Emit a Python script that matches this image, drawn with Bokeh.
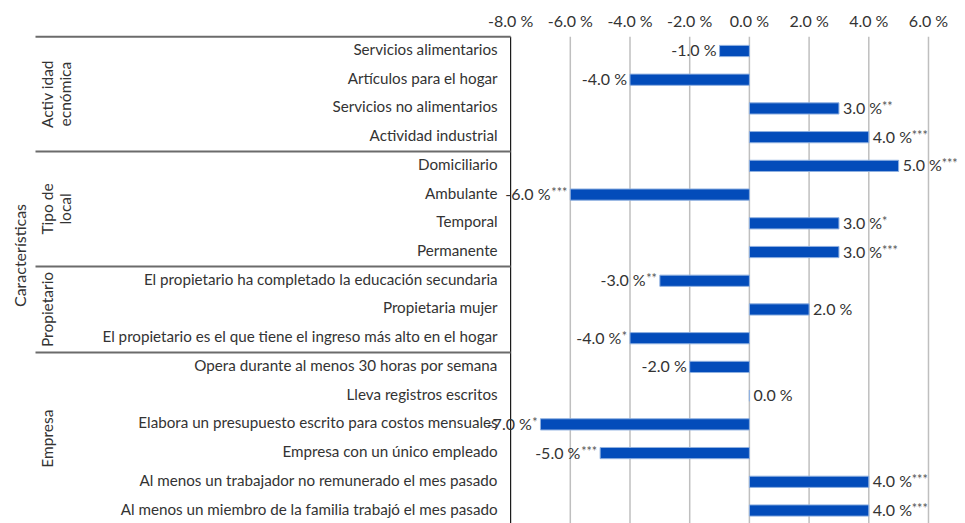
import numpy as np
from bokeh.plotting import figure
from bokeh.models import ColumnDataSource, Range1d
from bokeh.core.properties import value
from bokeh.embed import file_html
from bokeh.resources import INLINE

# ---- data -------------------------------------------------------------
categories = [
    "Servicios alimentarios",
    "Artículos para el hogar",
    "Servicios no alimentarios",
    "Actividad industrial",
    "Domiciliario",
    "Ambulante",
    "Temporal",
    "Permanente",
    "El propietario ha completado la educación secundaria",
    "Propietaria mujer",
    "El propietario es el que tiene el ingreso más alto en el hogar",
    "Opera durante al menos 30 horas por semana",
    "Lleva registros escritos",
    "Elabora un presupuesto escrito para costos mensuales",
    "Empresa con un único empleado",
    "Al menos un trabajador no remunerado el mes pasado",
    "Al menos un miembro de la familia trabajó el mes pasado",
]
values = [-1.0, -4.0, 3.0, 4.0, 5.0, -6.0, 3.0, 3.0, -3.0, 2.0, -4.0,
          -2.0, 0.0, -7.0, -5.0, 4.0, 4.0]
stars = ["", "", "**", "***", "***", "***", "*", "***", "**", "", "*",
         "", "", "*", "***", "***", "***"]
groups = ["Activ idad\necnómica", "Tipo de\nlocal", "Propietario", "Empresa"]
group_sizes = [4, 4, 3, 6]
tick_values = [-8, -6, -4, -2, 0, 2, 4, 6]
tick_labels = ["-8.0 %", "-6.0 %", "-4.0 %", "-2.0 %", "0.0 %", "2.0 %",
               "4.0 %", "6.0 %"]
axis_title = "Características"

# ---- canvas / coordinate helpers ---------------------------------------
W, H = 965, 523
X0, X1 = -25.09, 7.24          # data x spanning the whole canvas
Y_TOP, Y_BOT = -1.758, 16.452  # row index grows downward
sx = (X1 - X0) / W
sy = (Y_BOT - Y_TOP) / H


def xpx(px):
    return X0 + px * sx


def ypx(px):
    return Y_TOP + px * sy


FONT = value("Lato")
TEXT = "#333333"
BLUE = "#034cba"

p = figure(width=W, height=H, x_range=Range1d(X0, X1),
           y_range=Range1d(Y_BOT, Y_TOP), output_backend="svg",
           toolbar_location=None, min_border=0,
           x_axis_location=None, y_axis_location=None)
p.outline_line_color = None
p.grid.visible = False
p.background_fill_color = "white"

rows = np.arange(len(categories))
x_axis = tick_values[0]
top_edge = -0.5

# vertical grid lines and the left axis line
p.segment(x0=tick_values[1:], y0=top_edge, x1=tick_values[1:], y1=Y_BOT,
          line_color="#bfbfbf", line_width=1.5)
p.segment(x0=[x_axis], y0=[top_edge], x1=[x_axis], y1=[Y_BOT],
          line_color="#1a1a1a", line_width=1.2)

# tick labels across the top
p.text(x=tick_values, y=ypx(20), text=tick_labels, text_font=FONT,
       text_font_size="16px", text_color=TEXT, text_align="center",
       text_baseline="middle")

# group separators and group titles
starts = np.concatenate([[0], np.cumsum(group_sizes)[:-1]])
sep_y = starts - 0.5
p.segment(x0=xpx(35), y0=sep_y, x1=x_axis, y1=sep_y,
          line_color="#6b6b6b", line_width=2)
centers = starts + (np.array(group_sizes) - 1) / 2
p.text(x=xpx(37), y=centers, text=groups, angle=np.pi / 2,
       text_font=FONT, text_font_size="15.5px", text_color=TEXT,
       text_align="center", text_baseline="top", text_line_height=1.05)

# overall title on the far left
p.text(x=[xpx(19)], y=[ypx(255)], text=[axis_title], angle=np.pi / 2,
       text_font=FONT, text_font_size="16px", text_color=TEXT,
       text_align="center", text_baseline="middle")

# category labels
p.text(x=x_axis, y=rows, text=categories, x_offset=-13, y_offset=-2,
       text_font=FONT, text_font_size="15.2px", text_color=TEXT,
       text_align="right", text_baseline="middle")

# bars
src = ColumnDataSource(dict(y=rows, v=values))
p.hbar(y="y", left=0, right="v", height=0.39, source=src,
       fill_color=BLUE, line_color="#8fb0e0", line_width=1)

# value labels with significance stars
vals = np.array(values)
n_st = np.array([len(s) for s in stars])
neg = vals < 0
star_w = 5.6
main_txt = [f"{v:.1f} %" for v in values]
main_off = np.where(neg, -3 - star_w * n_st, 4)
main_align = np.where(neg, "right", "left")
star_off = np.where(neg, -3, 4 + 39)
lab = ColumnDataSource(dict(x=vals, y=rows, t=main_txt, st=stars,
                            mo=main_off, ma=main_align, so=star_off))
p.text(x="x", y="y", text="t", x_offset="mo", y_offset=-1, source=lab,
       text_align="ma", text_font=FONT, text_font_size="16px",
       text_color=TEXT, text_baseline="middle")
p.text(x="x", y="y", text="st", x_offset="so", y_offset=-2, source=lab,
       text_align="ma", text_font=FONT, text_font_size="12.5px",
       text_color="#555555", text_baseline="middle")

open("out.html", "w").write(file_html(p, INLINE))
